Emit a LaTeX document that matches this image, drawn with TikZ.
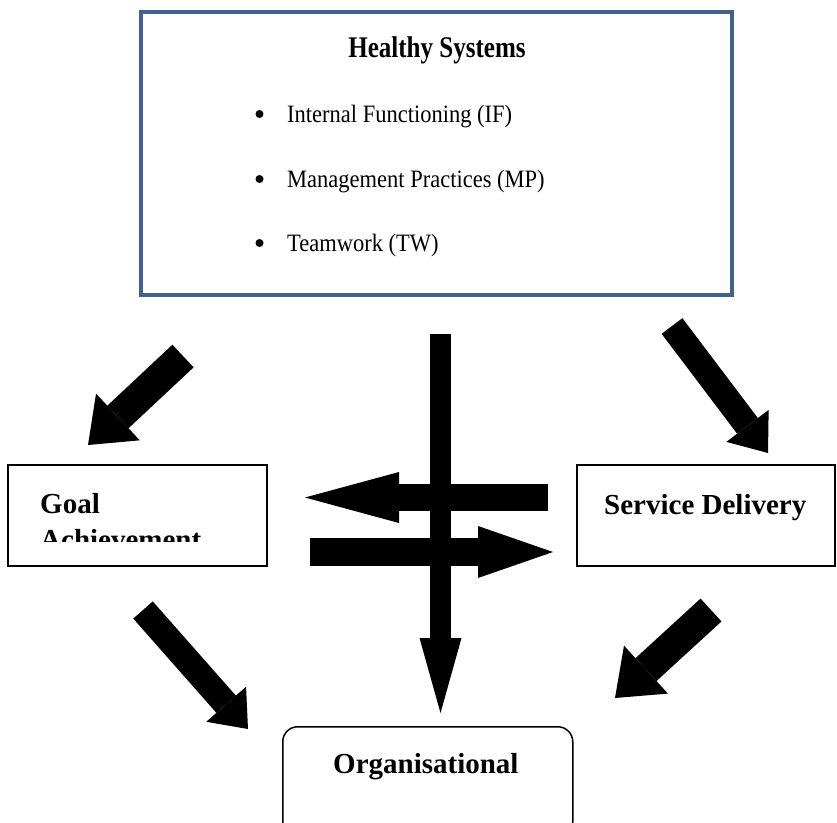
\documentclass[tikz,border=0pt]{standalone}
\usepackage{fontspec}
\setmainfont{Liberation Serif}
\usetikzlibrary{arrows.meta,positioning}
\definecolor{hsblue}{HTML}{41618F}

\begin{document}
\begin{tikzpicture}[x=1pt, y=-1pt,
  fatarrow/.style n args={3}{line width=#1,
    -{Triangle[length=#2, width=#3, line width=0pt]}},
  plainbox/.style={draw, line width=1.5pt, inner sep=0pt},
  boxlabel/.style={font=\fontsize{29}{35}\selectfont\bfseries, anchor=base west, inner sep=0pt},
  itemtext/.style={font=\fontsize{25}{30}\selectfont, anchor=base west, inner sep=0pt},
  itemdot/.style={circle, fill, inner sep=0pt, minimum size=8pt}]
  \useasboundingbox (0,0) rectangle (837,822);
  \clip (0,0) rectangle (837,822);

  % Healthy systems
  \node[draw=hsblue, line width=4pt, inner sep=0pt, minimum width=591pt,
    minimum height=283pt, anchor=north west] (hs) at (139,10) {};
  \node[font=\fontsize{30}{36}\selectfont\bfseries, anchor=base, inner sep=0pt]
    (hstitle) at (437,57) {\scalebox{0.835}[1]{Healthy Systems}};
  \node[itemtext] (if) at (287,122) {\scalebox{0.9}[1]{Internal Functioning (IF)}};
  \node[itemtext] (mp) at (287,187) {\scalebox{0.9}[1]{Management Practices (MP)}};
  \node[itemtext] (tw) at (287,251) {\scalebox{0.9}[1]{Teamwork (TW)}};
  \foreach \y/\n in {114/1, 179/2, 243/3}
    \node[itemdot] (dot\n) at (259.5,\y) {};

  % outcome boxes
  \node[plainbox, minimum width=259pt, minimum height=101pt] (goal) at (137.5,515.5) {};
  \node[plainbox, minimum width=258pt, minimum height=101pt] (service) at (706,515.5) {};
  \node[plainbox, rounded corners=15pt, minimum width=290pt, minimum height=110pt,
    anchor=north west] (org) at (282,726) {};
  \node[boxlabel] (goaltext) at (40,513) {Goal};
  \begin{scope}
    \clip (8,465) rectangle (267,541.5);
    \node[boxlabel] (achtext) at (40,549) {Achievement};
  \end{scope}
  \node[boxlabel] (servtext) at (604,514) {Service Delivery};
  \node[boxlabel] (orgtext) at (333,773) {Organisational};

  % arrow ends
  \coordinate (vtop) at (440.5,334);
  \coordinate (vtip) at (440.5,713);
  \coordinate (ltail) at (548,497.5);
  \coordinate (ltip) at (305,497.5);
  \coordinate (rtail) at (310,552);
  \coordinate (rtip) at (553,552);
  \coordinate (d1tail) at (183,356);
  \coordinate (d1tip) at (88,445);
  \coordinate (d2tail) at (672,326);
  \coordinate (d2tip) at (768,453);
  \coordinate (d3tail) at (143,610);
  \coordinate (d3tip) at (248,729);
  \coordinate (d4tail) at (711,610);
  \coordinate (d4tip) at (615,698);

  \draw[fatarrow={21pt}{75pt}{42pt}] (vtop) -- (vtip);
  \draw[fatarrow={27pt}{94pt}{51pt}] (ltail) -- (ltip);
  \draw[fatarrow={28pt}{75pt}{52pt}] (rtail) -- (rtip);
  \draw[fatarrow={31pt}{41pt}{64pt}] (d1tail) -- (d1tip);
  \draw[fatarrow={26pt}{34pt}{53pt}] (d2tail) -- (d2tip);
  \draw[fatarrow={26pt}{33pt}{53pt}] (d3tail) -- (d3tip);
  \draw[fatarrow={31pt}{42pt}{65pt}] (d4tail) -- (d4tip);
\end{tikzpicture}
\end{document}
